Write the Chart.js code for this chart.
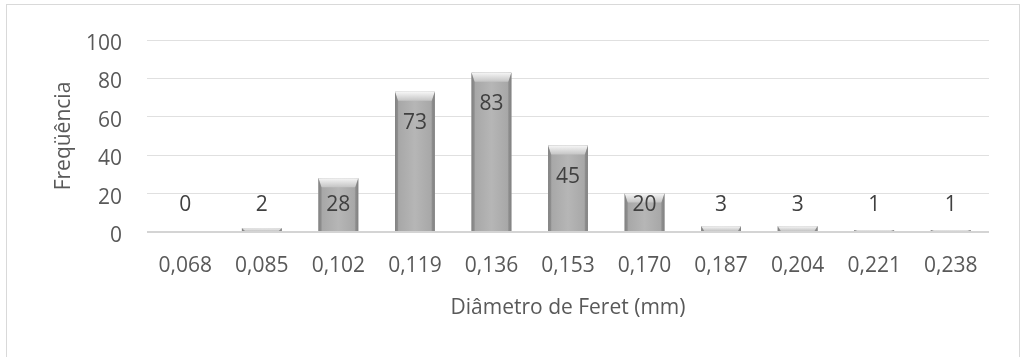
<!DOCTYPE html>
<html>
<head>
<meta charset="utf-8">
<script src="https://cdn.jsdelivr.net/npm/chart.js@4"></script>
<style>
  html, body { margin: 0; padding: 0; background: #ffffff; }
  #wrap { position: relative; width: 1027px; height: 357px; }
</style>
</head>
<body>
<div id="wrap"><canvas id="c" width="1027" height="357"></canvas></div>
<script>
// Feret diameter classes (mm) and counts per class
const categories = ['0,068', '0,085', '0,102', '0,119', '0,136', '0,153', '0,170', '0,187', '0,204', '0,221', '0,238'];
const frequencies = [0, 2, 28, 73, 83, 45, 20, 3, 3, 1, 1];
const yTicks = [0, 20, 40, 60, 80, 100];

const FONT = "'Open Sans', 'DejaVu Sans', sans-serif";
const TEXT = '#595959';
const SIZE = 21;

// white card with a thin grey frame
const framePlugin = {
  id: 'frame',
  beforeDraw(chart) {
    const c = chart.ctx;
    c.save();
    c.fillStyle = '#ffffff';
    c.fillRect(0, 0, chart.width, chart.height);
    c.strokeStyle = '#d9d9d9';
    c.lineWidth = 1;
    c.strokeRect(6.5, 4.5, 1013, 362);
    c.restore();
  }
};

// bevelled column shading and value labels
const bevelPlugin = {
  id: 'bevel',
  afterDatasetsDraw(chart) {
    const c = chart.ctx;
    const meta = chart.getDatasetMeta(0);
    const yScale = chart.scales.y;
    const zeroY = yScale.getPixelForValue(0);
    meta.data.forEach((bar, i) => {
      const v = frequencies[i];
      const w = bar.width;
      const x0 = bar.x - w / 2, x1 = bar.x + w / 2;
      const top = bar.y, base = bar.base;
      const h = base - top;
      if (h > 0.5) {
        c.save();
        // body: darker at the edges
        const g = c.createLinearGradient(x0, 0, x1, 0);
        g.addColorStop(0, '#8e8e8e');
        g.addColorStop(0.1, '#a8a8a8');
        g.addColorStop(0.5, '#b6b6b6');
        g.addColorStop(0.9, '#a8a8a8');
        g.addColorStop(1, '#8e8e8e');
        c.fillStyle = g;
        c.fillRect(x0, top, w, h);
        const b = Math.min(9, h);
        const s = Math.min(3, w / 4);
        // top chamfer
        const gt = c.createLinearGradient(0, top, 0, top + b);
        gt.addColorStop(0, '#f6f6f6');
        gt.addColorStop(1, '#c4c4c4');
        c.fillStyle = gt;
        c.beginPath();
        c.moveTo(x0, top);
        c.lineTo(x1, top);
        c.lineTo(x1 - s, top + b);
        c.lineTo(x0 + s, top + b);
        c.closePath();
        c.fill();
        // side chamfers
        c.fillStyle = 'rgba(110,110,110,0.35)';
        c.beginPath();
        c.moveTo(x0, top);
        c.lineTo(x0 + s, top + b);
        c.lineTo(x0 + s, base);
        c.lineTo(x0, base);
        c.closePath();
        c.fill();
        c.beginPath();
        c.moveTo(x1, top);
        c.lineTo(x1 - s, top + b);
        c.lineTo(x1 - s, base);
        c.lineTo(x1, base);
        c.closePath();
        c.fill();
        c.restore();
      }
      // value label
      c.save();
      c.font = SIZE + 'px ' + FONT;
      c.fillStyle = '#404040';
      c.textAlign = 'center';
      c.textBaseline = 'middle';
      const ly = Math.min(top + 31, zeroY - 27);
      c.fillText(String(v), bar.x, ly);
      c.restore();
    });
  }
};

new Chart(document.getElementById('c'), {
  type: 'bar',
  data: {
    labels: categories,
    datasets: [{
      data: frequencies,
      backgroundColor: '#b2b2b2',
      borderWidth: 0,
      categoryPercentage: 1,
      barPercentage: 0.52
    }]
  },
  options: {
    responsive: false,
    animation: false,
    devicePixelRatio: 1,
    layout: { padding: { left: 0, top: 40, right: 38, bottom: 0 } },
    plugins: { legend: { display: false }, tooltip: { enabled: false } },
    scales: {
      x: {
        grid: { display: false },
        border: { display: false },
        ticks: { color: TEXT, font: { family: FONT, size: SIZE }, padding: 13, maxRotation: 0, autoSkip: false },
        title: { display: true, text: 'Diâmetro de Feret (mm)', color: TEXT, font: { family: FONT, size: SIZE }, padding: { top: 0, bottom: 36 } },
        afterFit(scale) { scale.height = 125; }
      },
      y: {
        min: 0,
        max: 100,
        afterBuildTicks(scale) { scale.ticks = yTicks.map(v => ({ value: v })); },
        grid: {
          drawTicks: false,
          color: (ctx) => ctx.tick && ctx.tick.value === 0 ? '#d4d4d4' : '#e0e0e0',
          lineWidth: (ctx) => ctx.tick && ctx.tick.value === 0 ? 2 : 1
        },
        border: { display: false },
        ticks: { color: TEXT, font: { family: FONT, size: SIZE }, padding: 25, labelOffset: 4 },
        title: { display: true, text: 'Freqüência', color: TEXT, font: { family: FONT, size: SIZE }, padding: { top: 51, bottom: 0 } },
        afterFit(scale) { scale.width = 147; }
      }
    }
  },
  plugins: [framePlugin, bevelPlugin]
});
</script>
</body>
</html>
